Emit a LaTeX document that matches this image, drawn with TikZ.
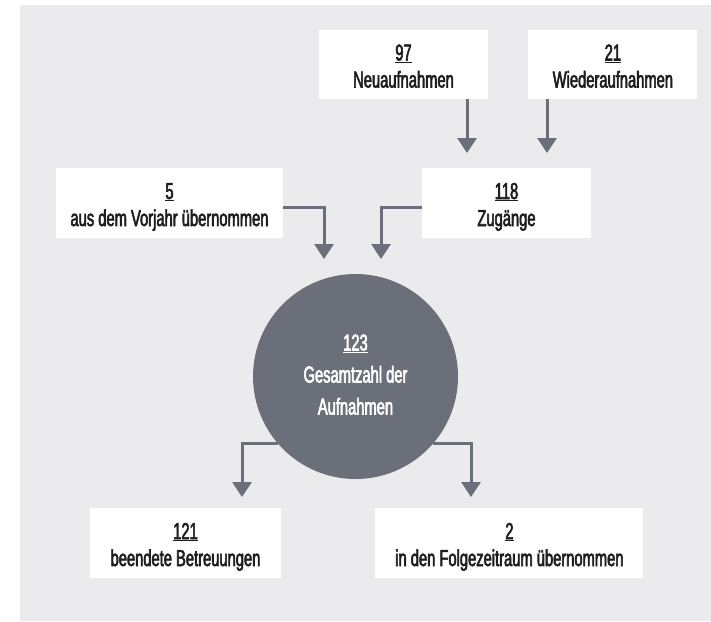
\documentclass[tikz,border=0pt]{standalone}
\usepackage{fontspec}
\setmainfont[FakeStretch=0.64, FakeBold=2.5]{Liberation Sans}
\usepackage{tikz}
\usetikzlibrary{arrows.meta,positioning,calc}
\usepackage{xcolor}
\definecolor{bggray}{HTML}{EBEBED}
\definecolor{slate}{HTML}{6A6F79}
\definecolor{ink}{HTML}{1E1E1E}
\newcommand{\eintrag}[2]{\rule{0pt}{25pt}\underline{#1}\\#2\rule[-6pt]{0pt}{6pt}}

\begin{document}
\begin{tikzpicture}[x=1pt, y=-1pt, every node/.style={font=\fontsize{23}{27}\selectfont, text=ink}]
\tikzset{box/.style={fill=white, align=center, inner sep=0pt, minimum height=70pt}}
\tikzset{kreis/.style={circle, fill=slate, text=white, align=center, inner sep=0pt, minimum size=205pt, font=\fontsize{23}{32}\selectfont}}
\tikzset{arrow/.style={-{Triangle[width=19pt,length=15pt]}, line width=3pt, draw=slate}}
\useasboundingbox (0,0) rectangle (711,621);
\fill[bggray] (20,5) rectangle (711,621);
\node[box, minimum width=169pt, minimum height=69pt] (neu) at (403.5,64.5) {\eintrag{97}{Neuaufnahmen}};
\node[box, minimum width=169pt, minimum height=69pt, right=40pt of neu] (wieder) {\eintrag{21}{Wiederaufnahmen}};
\node[box, minimum width=227pt] (vorjahr) at (169.5,203) {\eintrag{5}{aus dem Vorjahr übernommen}};
\node[box, minimum width=169pt] (zugang) at (506.5,203) {\eintrag{118}{Zugänge}};
\node[kreis] (gesamt) at (355.5,376.5) {\rule{0pt}{18pt}\underline{123}\\Gesamtzahl der\\Aufnahmen\rule[-6pt]{0pt}{6pt}};
\node[box, minimum width=191pt] (beendet) at (185.5,543) {\eintrag{121}{beendete Betreuungen}};
\node[box, minimum width=268pt, right=94pt of beendet] (folge) {\eintrag{2}{in den Folgezeitraum übernommen}};
\coordinate (t1) at (467,153);
\coordinate (t2) at (547,153);
\coordinate (t3) at (324,259);
\coordinate (t4) at (381,259);
\coordinate (t5) at (242,497);
\coordinate (t6) at (471,497);
\draw[arrow] (neu.south -| t1) -- (t1);
\draw[arrow] (wieder.south -| t2) -- (t2);
\draw[arrow] ($(vorjahr.east)+(0,4)$) -| (t3);
\draw[arrow] ($(zugang.west)+(0,4)$) -| (t4);
\draw[arrow] (gesamt.221) -| (t5);
\draw[arrow] (gesamt.319) -| (t6);
\end{tikzpicture}
\end{document}
